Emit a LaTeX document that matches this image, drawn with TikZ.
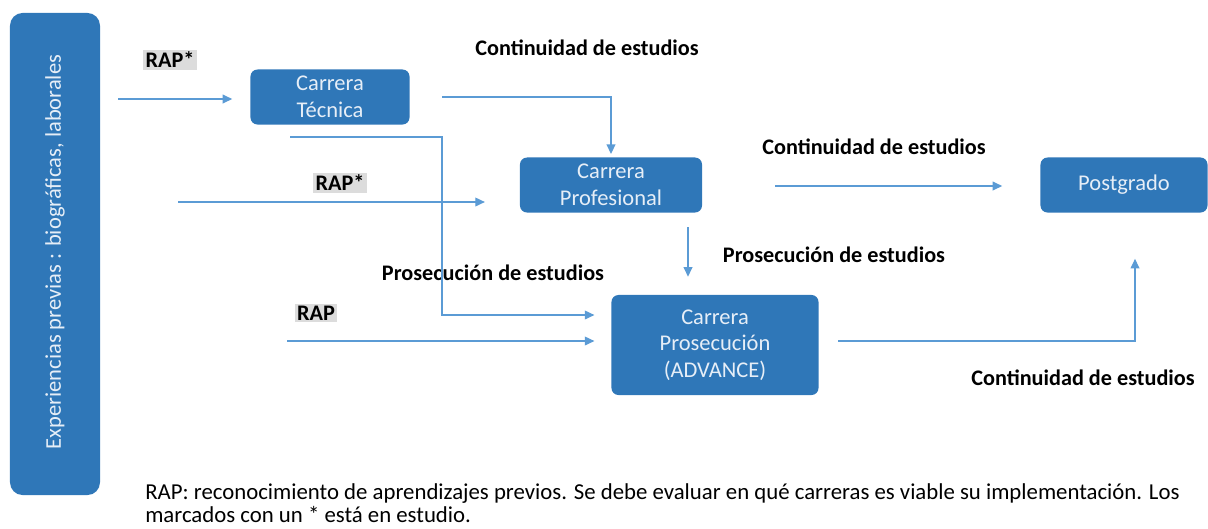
\documentclass[tikz,border=0pt]{standalone}
\usepackage{fontspec}
\setmainfont{Carlito}
\usetikzlibrary{arrows.meta}
\definecolor{boxblue}{HTML}{2F77B8}
\definecolor{lineblue}{HTML}{5B9BD5}
\definecolor{boxtext}{HTML}{E6EEF7}
\definecolor{rapgray}{HTML}{DCDCDC}

\begin{document}
\begin{tikzpicture}[
  x=0.025cm, y=-0.025cm,
  >={Triangle[length=2.4mm, width=2.2mm]},
  career/.style={fill=boxblue, rounded corners=5pt, inner sep=0pt,
              minimum height=1.375cm, align=center, text=boxtext,
              font=\fontsize{16pt}{19pt}\selectfont},
  sidebox/.style={fill=boxblue, rounded corners=9pt, inner sep=0pt,
              minimum width=2.25cm, minimum height=12.05cm},
  arr/.style={->, draw=lineblue, line width=0.9pt},
  lbl/.style={font=\bfseries\fontsize{15.8pt}{19pt}\selectfont, inner sep=1pt},
  rap/.style={lbl, fill=rapgray, inner sep=1.5pt},
  note/.style={anchor=base west, inner sep=0pt,
              font=\fontsize{16.2pt}{19pt}\selectfont},
]
\useasboundingbox (0,0) rectangle (1208,528);

% boxes
\node[sidebox] (exp) at (55,254) {};
\node[rotate=90, text=boxtext, font=\fontsize{16pt}{19pt}\selectfont]
  (expt) at (55,252) {Experiencias previas : biográficas, laborales};
\node[career, minimum width=3.975cm] (tec) at (330,97) {Carrera\\Técnica};
\node[career, minimum width=4.55cm] (prof) at (611,185) {Carrera\\Profesional};
\node[career, minimum width=4.175cm] (post) at (1124,185) {Postgrado};
\node[career, minimum width=5.175cm, minimum height=2.5cm] (adv) at (715,345)
  {Carrera\\Prosecución\\(ADVANCE)};

% labels
\node[rap] (rap1) at (170,60) {RAP*};
\node[rap] (rap2) at (340,183) {RAP*};
\node[rap] (rap3) at (316,313) {RAP};
\node[lbl] (cont1) at (587,48) {Continuidad de estudios};
\node[lbl] (cont2) at (874,147) {Continuidad de estudios};
\node[lbl] (cont3) at (1083,378) {Continuidad de estudios};
\node[lbl] (pros1) at (493,273) {Prosecución de estudios};
\node[lbl] (pros2) at (834,255) {Prosecución de estudios};

% free ends
\coordinate (a1) at (118,99);
\coordinate (a2) at (442,97);
\coordinate (a3) at (290,137);
\coordinate (a3b) at (442,315);
\coordinate (a4) at (178,202);
\coordinate (a5) at (688,227);
\coordinate (a6) at (287,341);
\coordinate (a7) at (775,186);
\coordinate (a8) at (838,341);
\coordinate (a8b) at (1135,341);

% connectors
\draw[arr, shorten >=0.45cm] (a1) -- (a1 -| tec.west);
\draw[arr, shorten >=0.08cm] (a2) -| (prof.north);
\draw[arr, shorten >=0.42cm] (a3) -| (a3b) -- (a3b -| adv.west);
\draw[arr, shorten >=0.87cm] (a4) -- (a4 -| prof.west);
\draw[arr, shorten >=0.45cm] (a5) -- (a5 |- adv.north);
\draw[arr, shorten >=0.42cm] (a6) -- (a6 -| adv.west);
\draw[arr, shorten >=0.95cm] (a7) -- (a7 -| post.west);
\draw[arr, shorten >=1.15cm] (a8) -- (a8b) -- (a8b |- post.south);

% note
\node[note] (note1) at (145,499)
  {RAP: reconocimiento de aprendizajes previos. Se debe evaluar en qué carreras es viable su implementación. Los};
\node[note] (note2) at (145,522) {marcados con un * está en estudio.};
\end{tikzpicture}
\end{document}
